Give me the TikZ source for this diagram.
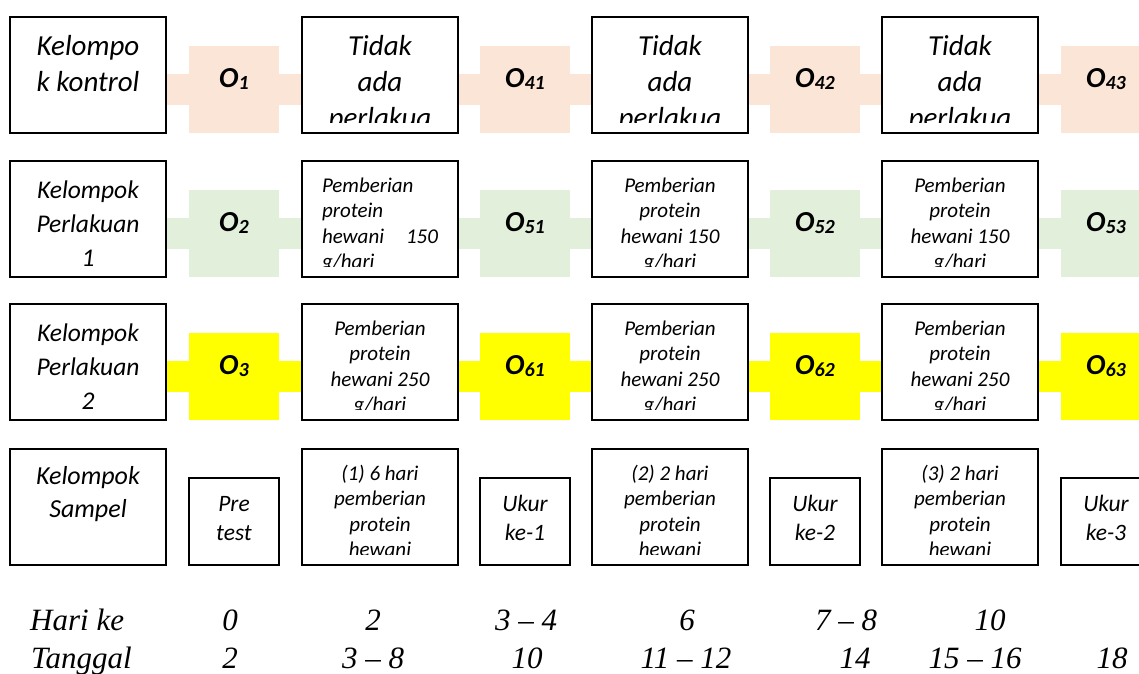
\documentclass[tikz,border=0pt]{standalone}
\usepackage{fontspec}
\setmainfont{Carlito}
\newfontfamily\tnr{Liberation Serif}
\usetikzlibrary{backgrounds}
\definecolor{peach}{HTML}{FBE5D6}
\definecolor{pgreen}{HTML}{E2EFDA}
\definecolor{pyellow}{HTML}{FFFF00}
\newcommand{\cliptext}[5]{%
  \begin{scope}
    \clip (#1.north west) rectangle ([yshift=11pt]#1.south east);
    \node[txt,#4] (#2) at ([yshift=-#3pt]#1.north) {\parbox[t]{150pt}{\centering #5}};
  \end{scope}}
\newcommand{\olab}[3]{\node[olabel] (#1) at ([yshift=-41pt]#2.north) {O\raisebox{-2pt}{\fontsize{20}{20}\selectfont #3}};}
\begin{document}
\begin{tikzpicture}[x=1pt,y=-1pt,
  bigbox/.style={draw=black,line width=1.6pt,fill=white,minimum width=156pt,minimum height=116pt,anchor=north west,inner sep=0pt,outer sep=0pt},
  sq/.style={minimum width=90pt,minimum height=87pt,anchor=north west,inner sep=0pt,outer sep=0pt},
  smallbox/.style={sq,draw=black,line width=1.6pt,fill=white},
  txt/.style={anchor=base,inner sep=0pt},
  olabel/.style={anchor=base,inner sep=0pt,font=\fontsize{29}{29}\selectfont\bfseries\itshape},
  fa/.style={font=\fontsize{29}{36}\selectfont\itshape},
  fb/.style={font=\fontsize{25.5}{34}\selectfont\itshape},
  fc/.style={font=\fontsize{21}{25.5}\selectfont\itshape},
  fd/.style={font=\fontsize{26}{33}\selectfont\itshape},
  fe/.style={font=\fontsize{23.5}{29}\selectfont\itshape},
  bt/.style={anchor=base,inner sep=0pt,font=\tnr\fontsize{31}{31}\selectfont\itshape},
  bar/.style={line width=31pt,draw=#1}
]
\useasboundingbox (0,0) rectangle (1139,673);
\clip (0,0) rectangle (1139,673);

% ---------- Row 1 ----------
\node[bigbox] (k1) at (10,17) {};
\node[sq,fill=peach] (o1) at (189,46) {};
\node[bigbox] (t1a) at (302,17) {};
\node[sq,fill=peach] (o41) at (480,46) {};
\node[bigbox] (t1b) at (592,17) {};
\node[sq,fill=peach] (o42) at (770,46) {};
\node[bigbox] (t1c) at (882,17) {};
\node[sq,fill=peach] (o43) at (1061,46) {};
\cliptext{k1}{xk1}{38}{fa}{Kelompo\\k kontrol}
\cliptext{t1a}{x1a}{38}{fa}{Tidak\\ada\\perlakua}
\cliptext{t1b}{x1b}{38}{fa}{Tidak\\ada\\perlakua}
\cliptext{t1c}{x1c}{38}{fa}{Tidak\\ada\\perlakua}
\olab{l1}{o1}{1}
\olab{l41}{o41}{41}
\olab{l42}{o42}{42}
\olab{l43}{o43}{43}

% ---------- Row 2 ----------
\node[bigbox] (k2) at (10,161) {};
\node[sq,fill=pgreen] (o2) at (189,190) {};
\node[bigbox] (t2a) at (302,161) {};
\node[sq,fill=pgreen] (o51) at (480,190) {};
\node[bigbox] (t2b) at (592,161) {};
\node[sq,fill=pgreen] (o52) at (770,190) {};
\node[bigbox] (t2c) at (882,161) {};
\node[sq,fill=pgreen] (o53) at (1061,190) {};
\cliptext{k2}{xk2}{37}{fb}{Kelompok\\Perlakuan\\1}
\begin{scope}
  \clip (t2a.north west) rectangle ([yshift=11pt]t2a.south east);
  \node[txt,fc] (x2a) at ([yshift=-31pt]t2a.north) {\parbox[t]{116pt}{\raggedright Pemberian\\protein\\hewani\hfill 150\\g/hari}};
\end{scope}
\cliptext{t2b}{x2b}{31}{fc}{Pemberian\\protein\\hewani 150\\g/hari}
\cliptext{t2c}{x2c}{31}{fc}{Pemberian\\protein\\hewani 150\\g/hari}
\olab{l2}{o2}{2}
\olab{l51}{o51}{51}
\olab{l52}{o52}{52}
\olab{l53}{o53}{53}

% ---------- Row 3 ----------
\node[bigbox] (k3) at (10,304) {};
\node[sq,fill=pyellow] (o3) at (189,333) {};
\node[bigbox] (t3a) at (302,304) {};
\node[sq,fill=pyellow] (o61) at (480,333) {};
\node[bigbox] (t3b) at (592,304) {};
\node[sq,fill=pyellow] (o62) at (770,333) {};
\node[bigbox] (t3c) at (882,304) {};
\node[sq,fill=pyellow] (o63) at (1061,333) {};
\cliptext{k3}{xk3}{37}{fb}{Kelompok\\Perlakuan\\2}
\cliptext{t3a}{x3a}{31}{fc}{Pemberian\\protein\\hewani 250\\g/hari}
\cliptext{t3b}{x3b}{31}{fc}{Pemberian\\protein\\hewani 250\\g/hari}
\cliptext{t3c}{x3c}{31}{fc}{Pemberian\\protein\\hewani 250\\g/hari}
\olab{l3}{o3}{3}
\olab{l61}{o61}{61}
\olab{l62}{o62}{62}
\olab{l63}{o63}{63}

% ---------- Row 4 ----------
\node[bigbox] (k4) at (10,449) {};
\node[smallbox] (s0) at (189,478) {};
\node[bigbox] (t4a) at (302,449) {};
\node[smallbox] (s1) at (480,478) {};
\node[bigbox] (t4b) at (592,449) {};
\node[smallbox] (s2) at (770,478) {};
\node[bigbox] (t4c) at (882,449) {};
\node[smallbox] (s3) at (1061,478) {};
\cliptext{k4}{xk4}{35}{fd}{Kelompok\\Sampel}
\cliptext{s0}{xs0}{33}{fe}{Pre\\test}
\cliptext{s1}{xs1}{33}{fe}{Ukur\\ke-1}
\cliptext{s2}{xs2}{33}{fe}{Ukur\\ke-2}
\cliptext{s3}{xs3}{33}{fe}{Ukur\\ke-3}
\cliptext{t4a}{x4a}{31}{fc}{(1) 6 hari\\pemberian\\protein\\hewani}
\cliptext{t4b}{x4b}{31}{fc}{(2) 2 hari\\pemberian\\protein\\hewani}
\cliptext{t4c}{x4c}{31}{fc}{(3) 2 hari\\pemberian\\protein\\hewani}

% ---------- connecting bars (behind) ----------
\begin{pgfonlayer}{background}
  \fill[white] (0,0) rectangle (1139,673);
  \foreach \a/\b in {k1/o1,o1/t1a,t1a/o41,o41/t1b,t1b/o42,o42/t1c,t1c/o43}
    \draw[bar=peach] (\a.center |- o1.center) -- (\b.center |- o1.center);
  \foreach \a/\b in {k2/o2,o2/t2a,t2a/o51,o51/t2b,t2b/o52,o52/t2c,t2c/o53}
    \draw[bar=pgreen] (\a.center |- o2.center) -- (\b.center |- o2.center);
  \foreach \a/\b in {k3/o3,o3/t3a,t3a/o61,o61/t3b,t3b/o62,o62/t3c,t3c/o63}
    \draw[bar=pyellow] (\a.center |- o3.center) -- (\b.center |- o3.center);
\end{pgfonlayer}

% ---------- bottom table ----------
\node[bt,anchor=base west] (hk) at (30,630) {Hari ke};
\node[bt] (h0) at (230,630) {0};
\node[bt] (h1) at (373,630) {2};
\node[bt] (h2) at (526,630) {3 – 4};
\node[bt] (h3) at (687,630) {6};
\node[bt] (h4) at (846,630) {7 – 8};
\node[bt] (h5) at (990,630) {10};
\node[bt,anchor=base west] (tg) at (31,668) {Tanggal};
\node[bt] (g0) at (230,668) {2};
\node[bt] (g1) at (373,668) {3 – 8};
\node[bt] (g2) at (527,668) {10};
\node[bt] (g3) at (686,668) {11 – 12};
\node[bt] (g4) at (855,668) {14};
\node[bt] (g5) at (975,668) {15 – 16};
\node[bt] (g6) at (1112,668) {18};
\end{tikzpicture}
\end{document}
